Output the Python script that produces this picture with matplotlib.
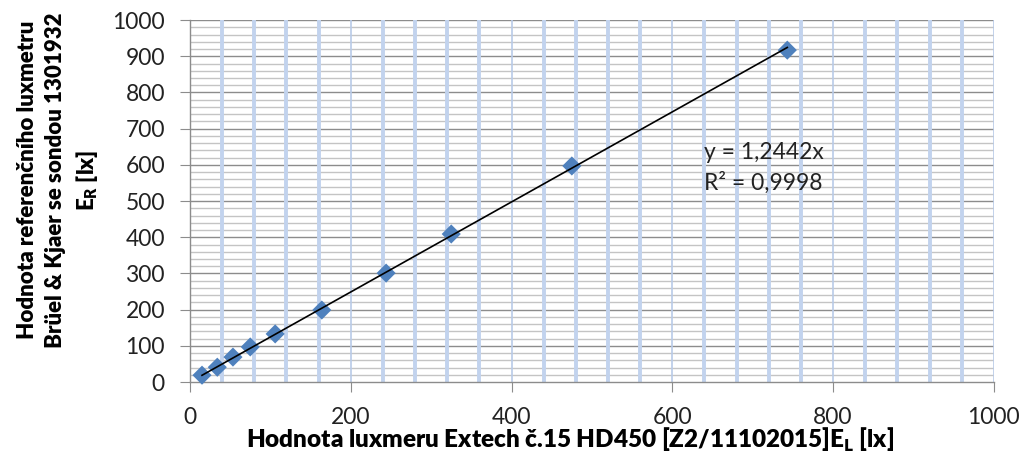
import numpy as np
import matplotlib.pyplot as plt
from matplotlib.ticker import MultipleLocator

plt.rcParams["font.family"] = ["Lato", "DejaVu Sans"]

# Extech HD450 reading vs. reference luxmeter reading [lx]
extech_lx = [15, 34, 53.5, 75, 106, 164, 244, 325, 475, 743]
reference_lx = [19, 41, 69, 97, 133, 199, 301, 409, 597, 917]
slope = 1.2442
r2 = 0.9998

fig = plt.figure(figsize=(10.29, 4.57), dpi=100)
ax = fig.add_axes([0.1846, 0.164, 0.7813, 0.792])

ax.set_xlim(0, 1000)
ax.set_ylim(0, 1000)

# horizontal grid: every 20 light, every 100 darker
for y in np.arange(20, 1001, 20):
    c = "#8c8c8c" if y % 100 == 0 else "#c4c4c4"
    ax.axhline(y, color=c, lw=1.0, zorder=1)
# vertical grid: thick pale blue every 40, thin every 200
for x in np.arange(40, 1001, 40):
    if x % 200 == 0:
        ax.axvline(x, color="#b9cbe8", lw=1.2, zorder=1)
    else:
        ax.axvline(x, color="#c2d3ee", lw=2.8, zorder=1)

ax.xaxis.set_major_locator(MultipleLocator(200))
ax.yaxis.set_major_locator(MultipleLocator(100))
ax.tick_params(axis="both", direction="out", length=7, color="#8c8c8c",
               labelsize=16.5, labelcolor="#222222", pad=11)
for side in ("top", "right"):
    ax.spines[side].set_visible(False)
for side in ("left", "bottom"):
    ax.spines[side].set_color("#8c8c8c")
    ax.spines[side].set_linewidth(1.0)

ax.scatter(extech_lx, reference_lx, marker="D", s=95, color="#4f81bd",
           edgecolors="none", zorder=3, clip_on=False)

xs = np.array([min(extech_lx), max(extech_lx)])
ax.plot(xs, slope * xs, color="black", lw=1.2, zorder=4)

ax.text(640, 633, f"y = {slope:.4f}x".replace(".", ","), fontsize=16.5,
        color="#222222", va="center")
ax.text(640, 550, f"R² = {r2:.4f}".replace(".", ","), fontsize=16.5,
        color="#222222", va="center")

ax.set_xlabel("Hodnota luxmeru Extech č.15 HD450 [Z2/11102015]E$_\\mathregular{L}$ [lx]",
              fontsize=17.5, fontweight="heavy")
ax.xaxis.set_label_coords(0.473, -0.122)
ax.set_ylabel("Hodnota referenčního luxmetru\nBrüel & Kjaer se sondou 1301932\nE$_\\mathregular{R}$ [lx]",
              fontsize=16, fontweight="heavy", linespacing=1.4)
ax.yaxis.set_label_coords(-0.112, 0.558)

fig.savefig("out.png", dpi=100)
